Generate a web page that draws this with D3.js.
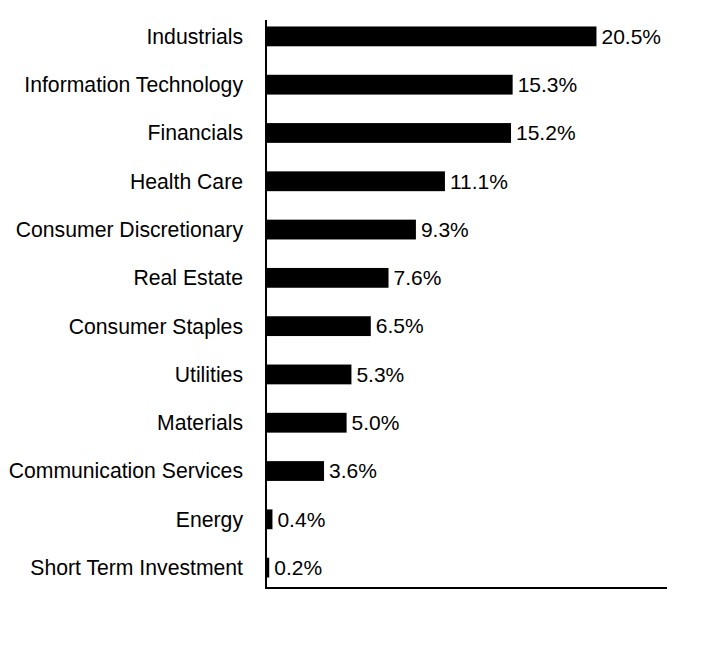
<!DOCTYPE html>
<html lang="en">
<head>
  <meta charset="UTF-8" />
  <script src="https://d3js.org/d3.v7.min.js"></script>
  <style>
    body { margin: 0; background: #fff; }
    svg { display: block; font-family: "Liberation Sans", Arial, sans-serif; }
  </style>
</head>
<body>
  <svg width="720" height="672"></svg>
  <script>
    const sectors = [
      "Industrials", "Information Technology", "Financials", "Health Care",
      "Consumer Discretionary", "Real Estate", "Consumer Staples", "Utilities",
      "Materials", "Communication Services", "Energy", "Short Term Investment"
    ];
    const weights = [20.5, 15.3, 15.2, 11.1, 9.3, 7.6, 6.5, 5.3, 5.0, 3.6, 0.4, 0.2];

    const svg = d3.select("svg");
    const plotLeft = 266, plotRight = 667, plotTop = 20, plotBottom = 588;

    const x = d3.scaleLinear().domain([0, 25]).range([plotLeft, plotLeft + 403]);
    const y = d3.scaleBand().domain(sectors).range([12, 592]).paddingInner(0.59).paddingOuter(0.3);

    const rows = sectors.map((s, i) => ({ name: s, value: weights[i] }));

    svg.append("g")
      .selectAll("rect")
      .data(rows)
      .join("rect")
      .attr("x", x(0))
      .attr("y", d => y(d.name))
      .attr("width", d => x(d.value) - x(0))
      .attr("height", y.bandwidth())
      .attr("fill", "#000");

    svg.append("g")
      .style("font-size", "21.2px")
      .selectAll("text")
      .data(rows)
      .join("text")
      .attr("x", plotLeft - 23)
      .attr("y", d => y(d.name) + y.bandwidth() / 2)
      .attr("dy", "0.35em")
      .attr("text-anchor", "end")
      .text(d => d.name);

    svg.append("g")
      .style("font-size", "21px")
      .selectAll("text")
      .data(rows)
      .join("text")
      .attr("x", d => x(d.value) + 5)
      .attr("y", d => y(d.name) + y.bandwidth() / 2)
      .attr("dy", "0.35em")
      .text(d => d.value.toFixed(1) + "%");

    // axis lines
    svg.append("line")
      .attr("x1", plotLeft).attr("x2", plotLeft)
      .attr("y1", plotTop).attr("y2", plotBottom)
      .attr("stroke", "#000").attr("stroke-width", 2);
    svg.append("line")
      .attr("x1", plotLeft - 1).attr("x2", plotRight)
      .attr("y1", plotBottom).attr("y2", plotBottom)
      .attr("stroke", "#000").attr("stroke-width", 2);
  </script>
</body>
</html>
